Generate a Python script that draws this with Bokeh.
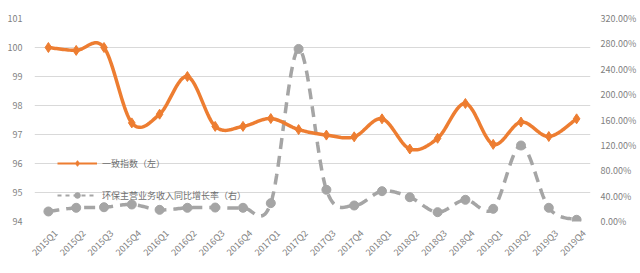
import numpy as np
from bokeh.plotting import figure
from bokeh.models import (Range1d, LinearAxis, FixedTicker, NumeralTickFormatter,
                          Legend, LegendItem)
from bokeh.embed import file_html
from bokeh.resources import INLINE

quarters = ["2015Q1", "2015Q2", "2015Q3", "2015Q4", "2016Q1", "2016Q2", "2016Q3", "2016Q4",
            "2017Q1", "2017Q2", "2017Q3", "2017Q4", "2018Q1", "2018Q2", "2018Q3", "2018Q4",
            "2019Q1", "2019Q2", "2019Q3", "2019Q4"]
index_vals = [100.0, 99.9, 100.0, 97.4, 97.7, 99.0, 97.28, 97.28, 97.55, 97.17,
              96.98, 96.92, 97.54, 96.5, 96.87, 98.07, 96.66, 97.43, 96.93, 97.54]
growth_vals = [0.158, 0.216, 0.225, 0.268, 0.184, 0.216, 0.22, 0.216, 0.289, 2.72,
               0.50, 0.252, 0.478, 0.383, 0.147, 0.342, 0.20, 1.198, 0.216, 0.027]
left_ticks = [94, 95, 96, 97, 98, 99, 100, 101]
right_ticks = [0.0, 0.4, 0.8, 1.2, 1.6, 2.0, 2.4, 2.8, 3.2]
label_index = "一致指数（左）"
label_growth = "环保主营业务收入同比增长率（右）"

ORANGE = "#ED7D31"
GRAY = "#A5A5A5"
TXT = "#7F7F7F"
FONT = "Noto Sans CJK SC"


def smooth(ys, n=20):
    xs = np.arange(len(ys), dtype=float)
    ys = np.asarray(ys, dtype=float)
    P = np.column_stack([xs, ys])
    m = len(P)
    ox, oy = [], []
    t = np.linspace(0, 1, n)
    for i in range(m - 1):
        p0 = P[i - 1] if i > 0 else P[i]
        p1 = P[i]
        p2 = P[i + 1]
        p3 = P[i + 2] if i + 2 < m else P[i + 1]
        b0 = p1
        b1 = p1 + (p2 - p0) / 6.0
        b2 = p2 - (p3 - p1) / 6.0
        b3 = p2
        tt = t[:, None]
        pts = ((1 - tt) ** 3) * b0 + 3 * ((1 - tt) ** 2) * tt * b1 + 3 * (1 - tt) * tt ** 2 * b2 + tt ** 3 * b3
        if i > 0:
            pts = pts[1:]
        ox.extend(pts[:, 0]); oy.extend(pts[:, 1])
    return ox, oy


n = len(quarters)
p = figure(width=640, height=273, output_backend="svg", toolbar_location=None,
           x_range=Range1d(-0.5, n - 0.5), y_range=Range1d(94, 101),
           min_border_left=34, min_border_right=50, min_border_top=18, min_border_bottom=52)
p.outline_line_color = None
p.background_fill_color = "white"
p.border_fill_color = "white"
p.xgrid.grid_line_color = None
p.ygrid.grid_line_color = "#D9D9D9"
p.ygrid.grid_line_width = 1
p.ygrid.ticker = FixedTicker(ticks=left_ticks)

# label axis: slightly shifted range so each rotated label ends just right of its point
p.extra_x_ranges = {"lab": Range1d(-0.5 - 0.27, n - 0.5 - 0.27)}
p.extra_y_ranges = {"right": Range1d(0, 3.2)}

la = p.yaxis[0]
la.ticker = FixedTicker(ticks=left_ticks)
p.xaxis[0].visible = False

xa = LinearAxis(x_range_name="lab", ticker=FixedTicker(ticks=list(range(n))))
xa.major_label_overrides = {i: q for i, q in enumerate(quarters)}
xa.major_label_orientation = np.pi / 4
p.add_layout(xa, "below")

ra = LinearAxis(y_range_name="right", ticker=FixedTicker(ticks=right_ticks),
                formatter=NumeralTickFormatter(format="0.00%"))
p.add_layout(ra, "right")

for ax in [la, xa, ra]:
    ax.axis_line_color = None
    ax.major_tick_line_color = None
    ax.minor_tick_line_color = None
    ax.major_tick_out = 0
    ax.major_tick_in = 0
    ax.major_label_text_color = TXT
    ax.major_label_text_font = FONT
    ax.major_label_text_font_size = "9px"
la.major_label_standoff = 12
ra.major_label_standoff = 10
xa.major_label_standoff = 10

xi = list(range(n))

# gray series (right axis)
gx, gy = smooth(growth_vals)
g_line = p.line(gx, gy, y_range_name="right", line_color=GRAY, line_width=3.5,
                line_dash="11 7")
g_pts = p.scatter(xi, growth_vals, y_range_name="right", marker="circle", size=9,
                  fill_color=GRAY, line_color=GRAY)

# orange series (left axis)
ox, oy = smooth(index_vals)
o_line = p.line(ox, oy, line_color=ORANGE, line_width=3.5, line_join="round")
o_pts = p.scatter(xi, index_vals, marker="diamond", size=10,
                  fill_color=ORANGE, line_color=ORANGE)

# legend glyph dummies
lo_line = p.line([np.nan], [np.nan], line_color=ORANGE, line_width=2)
lo_pt = p.scatter([np.nan], [np.nan], marker="diamond", size=7, fill_color=ORANGE, line_color=ORANGE)
lg_line = p.line([np.nan], [np.nan], line_color=GRAY, line_width=2, line_dash="4 4")
lg_pt = p.scatter([np.nan], [np.nan], marker="circle", size=6, fill_color=GRAY, line_color=GRAY)

legend = Legend(items=[LegendItem(label=label_index, renderers=[lo_line, lo_pt]),
                       LegendItem(label=label_growth, renderers=[lg_line, lg_pt])],
                location=(23, 16), orientation="vertical",
                glyph_width=40, glyph_height=14, label_height=20, spacing=12,
                padding=0, margin=0, label_standoff=5,
                label_text_font=FONT, label_text_font_size="9px", label_text_color="#6F6F6F",
                background_fill_alpha=0, border_line_color=None)
p.add_layout(legend, "center")

open("out.html", "w").write(file_html(p, INLINE))
